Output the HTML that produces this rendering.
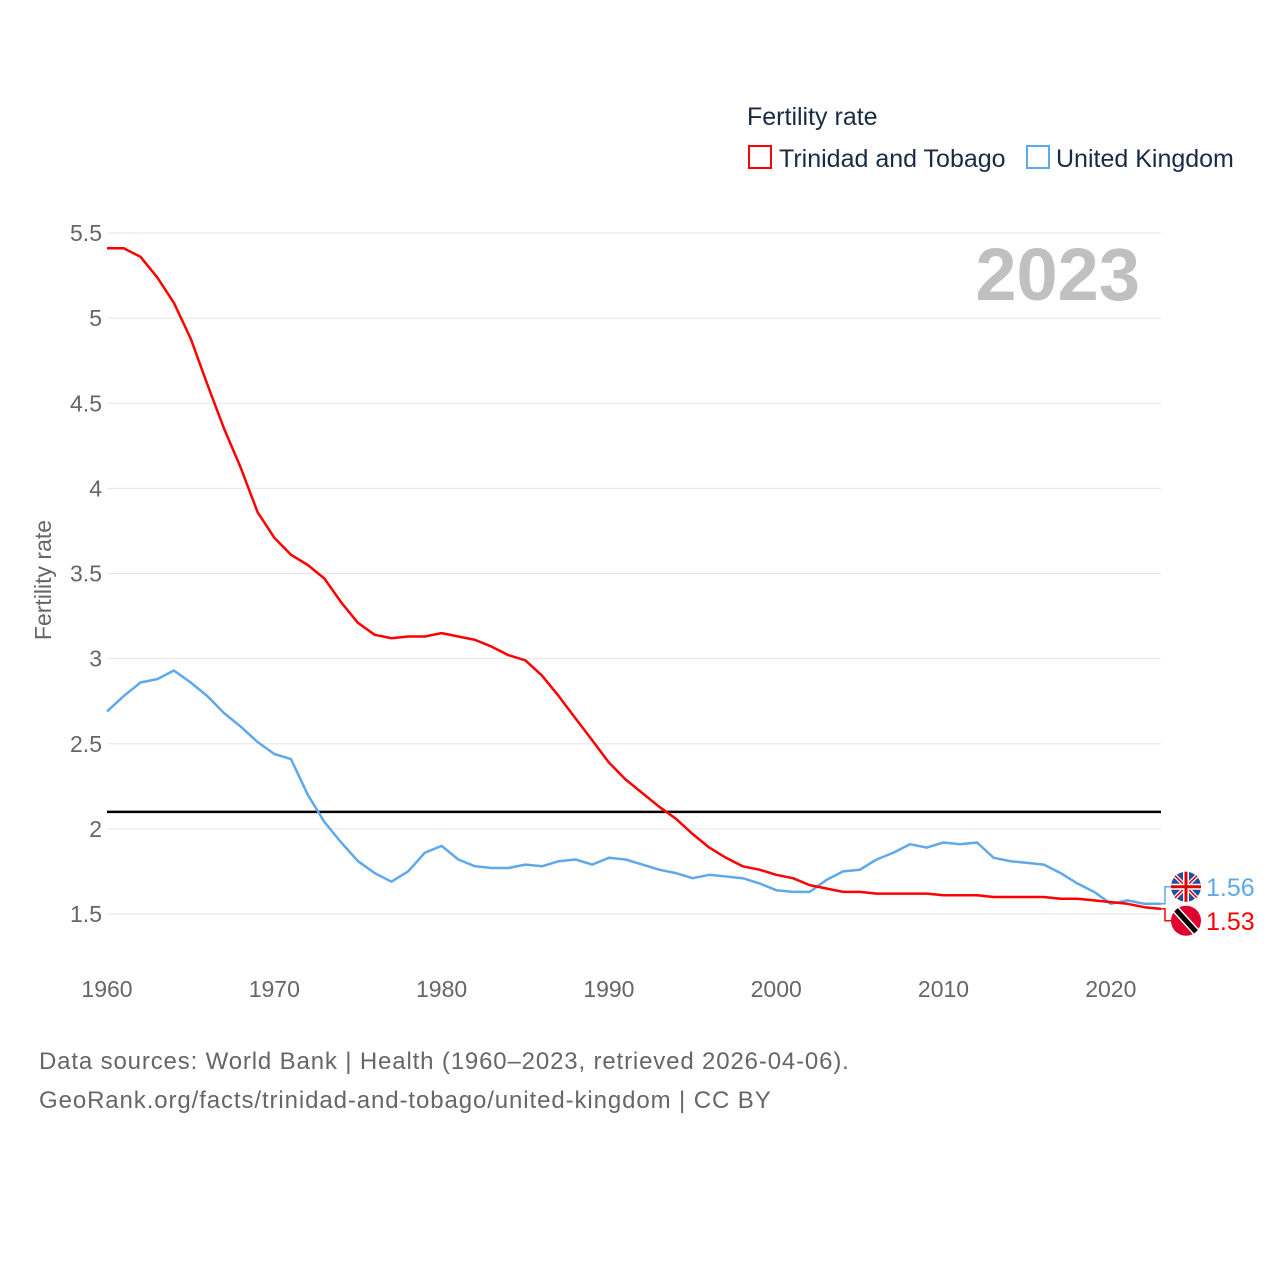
<!DOCTYPE html>
<html><head><meta charset="utf-8"><style>
body{margin:0;background:#fff;width:1280px;height:1280px;overflow:hidden;font-family:"Liberation Sans",sans-serif}
svg{display:block}
</style></head><body>
<svg id="chart" width="1280" height="1280" xmlns="http://www.w3.org/2000/svg" font-family="Liberation Sans, sans-serif">
<text x="747" y="125" font-size="25" fill="#1a2a44">Fertility rate</text>
<rect x="749" y="146" width="22" height="22" fill="none" stroke="#ff0000" stroke-width="2"/>
<text x="779" y="167" font-size="25" fill="#1a2a44">Trinidad and Tobago</text>
<rect x="1027" y="146" width="22" height="22" fill="none" stroke="#5fa8ea" stroke-width="2"/>
<text x="1056" y="167" font-size="25" fill="#1a2a44">United Kingdom</text>
<text x="1140" y="300" font-size="74" font-weight="bold" fill="#c0c0c0" text-anchor="end">2023</text>
<text transform="translate(51,580) rotate(-90)" font-size="23" fill="#666" text-anchor="middle">Fertility rate</text>
<g id="grid"></g><g id="series"></g>
<text x="39" y="1069" font-size="24" fill="#666" letter-spacing="0.85">Data sources: World Bank | Health (1960–2023, retrieved 2026-04-06).</text>
<text x="39" y="1108" font-size="24" fill="#666" letter-spacing="0.9">GeoRank.org/facts/trinidad-and-tobago/united-kingdom | CC BY</text>
</svg>
<script>
const years=[];for(let y=1960;y<=2023;y++)years.push(y);
const yTicks=[1.5,2,2.5,3,3.5,4,4.5,5,5.5];
const yTickLabels=["1.5","2","2.5","3","3.5","4","4.5","5","5.5"];
const xTicks=[1960,1970,1980,1990,2000,2010,2020];
const replacementRate=2.1;
const tt=[5.41,5.41,5.36,5.24,5.09,4.88,4.61,4.35,4.12,3.86,3.71,3.61,3.55,3.47,3.33,3.21,3.14,3.12,3.13,3.13,3.15,3.13,3.11,3.07,3.02,2.99,2.90,2.78,2.65,2.52,2.39,2.29,2.21,2.13,2.06,1.97,1.89,1.83,1.78,1.76,1.73,1.71,1.67,1.65,1.63,1.63,1.62,1.62,1.62,1.62,1.61,1.61,1.61,1.60,1.60,1.60,1.60,1.59,1.59,1.58,1.57,1.56,1.54,1.53];
const uk=[2.69,2.78,2.86,2.88,2.93,2.86,2.78,2.68,2.60,2.51,2.44,2.41,2.20,2.04,1.92,1.81,1.74,1.69,1.75,1.86,1.90,1.82,1.78,1.77,1.77,1.79,1.78,1.81,1.82,1.79,1.83,1.82,1.79,1.76,1.74,1.71,1.73,1.72,1.71,1.68,1.64,1.63,1.63,1.70,1.75,1.76,1.82,1.86,1.91,1.89,1.92,1.91,1.92,1.83,1.81,1.80,1.79,1.74,1.68,1.63,1.56,1.58,1.56,1.56];
const NS="http://www.w3.org/2000/svg";
const X=y=>107+(y-1960)*(1161-107)/63;
const Y=v=>914-(v-1.5)*170.25;
function mk(tag,attrs,parent,text){const e=document.createElementNS(NS,tag);for(const k in attrs)e.setAttribute(k,attrs[k]);if(text!==undefined)e.textContent=text;parent.appendChild(e);return e;}
const grid=document.getElementById('grid'),ser=document.getElementById('series');
yTicks.forEach((t,i)=>{
 const l=mk('line',{x1:107,x2:1161,y1:Y(t),y2:Y(t),stroke:'#e6e6e6','stroke-width':1},grid);
 
 
 const tx=mk('text',{x:102,y:Y(t)+8,'font-size':23,fill:'#666','text-anchor':'end'},grid,yTickLabels[i]);
 
 
});
xTicks.forEach(t=>{
 const tx=mk('text',{x:X(t),y:997,'font-size':23,fill:'#666','text-anchor':'middle'},grid,String(t));
 
 
});
const ref=mk('line',{x1:107,x2:1161,y1:Y(replacementRate),y2:Y(replacementRate),stroke:'#000','stroke-width':2.5},ser);


function line(vals,color,name){
 const d=vals.map((v,i)=>(i?'L':'M')+X(years[i]).toFixed(1)+' '+Y(v).toFixed(1)).join(' ');
 const p=mk('path',{d:d,fill:'none',stroke:color,'stroke-width':2.5,'stroke-linejoin':'round'},ser);
 
 
}
line(uk,'#5fa8ea','uk-line');
line(tt,'#ff0000','trinidad-line');
const ukEnd=uk[uk.length-1],ttEnd=tt[tt.length-1];
const ukLY=Math.min(Y(ukEnd),Y(ttEnd))-17,ttLY=ukLY+34;
const c1=mk('path',{d:`M1161 ${Y(ukEnd)} H1165 V${ukLY} H1172`,fill:'none',stroke:'#5fa8ea','stroke-width':1.5},ser);


const c2=mk('path',{d:`M1161 ${Y(ttEnd)} H1165 V${ttLY} H1172`,fill:'none',stroke:'#ff0000','stroke-width':1.5},ser);


const f1=mk('g',{},ser);


const cx=1186;
mk('circle',{cx:cx,cy:ukLY,r:15,fill:'#1f4fa0'},f1);
mk('path',{d:`M${cx-11} ${ukLY-11}L${cx+11} ${ukLY+11}M${cx+11} ${ukLY-11}L${cx-11} ${ukLY+11}`,stroke:'#fff','stroke-width':4},f1);
mk('path',{d:`M${cx-11} ${ukLY-11}L${cx+11} ${ukLY+11}M${cx+11} ${ukLY-11}L${cx-11} ${ukLY+11}`,stroke:'#d00','stroke-width':1.5},f1);
mk('path',{d:`M${cx} ${ukLY-15}V${ukLY+15}M${cx-15} ${ukLY}H${cx+15}`,stroke:'#fff','stroke-width':6},f1);
mk('path',{d:`M${cx} ${ukLY-15}V${ukLY+15}M${cx-15} ${ukLY}H${cx+15}`,stroke:'#d00','stroke-width':3},f1);
const f2=mk('g',{},ser);


mk('circle',{cx:cx,cy:ttLY,r:15,fill:'#e00030'},f2);
mk('path',{d:`M${cx-10} ${ttLY-11}L${cx+10} ${ttLY+11}`,stroke:'#fff','stroke-width':8},f2);
mk('path',{d:`M${cx-10} ${ttLY-11}L${cx+10} ${ttLY+11}`,stroke:'#000','stroke-width':5},f2);
const l1=mk('text',{x:1206,y:ukLY+9,'font-size':25,fill:'#5fa8ea'},ser,ukEnd.toFixed(2));


const l2=mk('text',{x:1206,y:ttLY+9,'font-size':25,fill:'#ff0000'},ser,ttEnd.toFixed(2));


</script>
</body></html>
